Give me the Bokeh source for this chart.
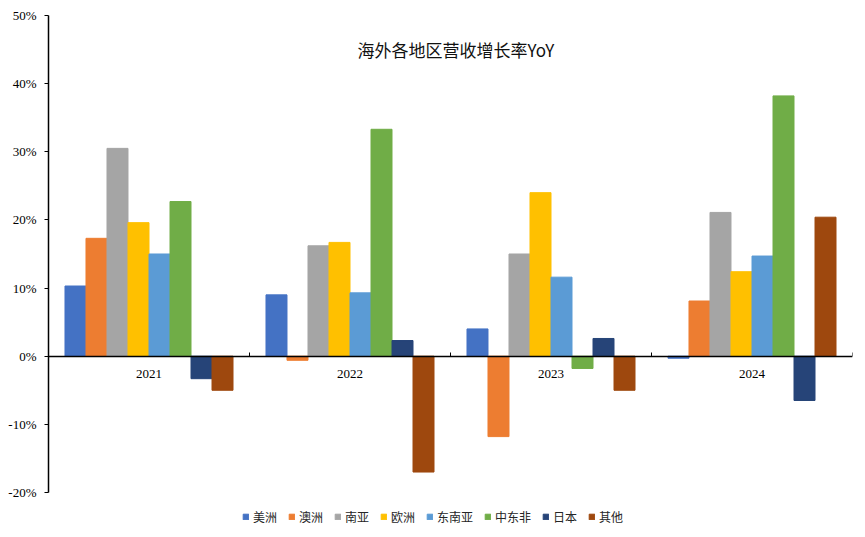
from bokeh.plotting import figure
from bokeh.models import (ColumnDataSource, Range1d, LinearAxis,
                          FixedTicker, PrintfTickFormatter, Legend, LegendItem, Label)
from bokeh.embed import file_html
from bokeh.resources import INLINE

years = ["2021", "2022", "2023", "2024"]
regions = ["美洲", "澳洲", "南亚", "欧洲", "东南亚", "中东非", "日本", "其他"]
americas = [10.3, 9.0, 4.0, -0.3]
australia = [17.3, -0.6, -11.8, 8.1]
south_asia = [30.5, 16.2, 15.0, 21.1]
europe = [19.6, 16.7, 24.0, 12.4]
southeast_asia = [15.0, 9.3, 11.6, 14.7]
mideast_africa = [22.7, 33.3, -1.8, 38.2]
japan = [-3.3, 2.3, 2.6, -6.5]
others = [-5.0, -17.0, -5.0, 20.4]
series = [americas, australia, south_asia, europe, southeast_asia, mideast_africa, japan, others]
colors = ["#4472C4", "#ED7D31", "#A5A5A5", "#FFC000", "#5B9BD5", "#70AD47", "#264478", "#9E480E"]
title_text = "海外各地区营收增长率YoY"
y_ticks = [-20, -10, 0, 10, 20, 30, 40, 50]

centers = [i + 0.5 for i in range(len(years))]
n = len(series)
w = 1.0 / (n + 1.57)

# frame spans 15..530 px; axis drawn only over -20..50
p = figure(width=860, height=535, output_backend="svg", toolbar_location=None,
           x_range=Range1d(0, len(years)), y_range=Range1d(-25.58, 50))
p.outline_line_color = None
p.xgrid.visible = False
p.ygrid.visible = False
p.min_border_left = 48
p.min_border_right = 8
p.min_border_top = 15
p.min_border_bottom = 5
p.xaxis.visible = False

renderers = []
for i in range(n):
    off = (i - (n - 1) / 2) * w
    src = ColumnDataSource({"x": [c + off for c in centers], "top": series[i]})
    r = p.vbar(x="x", top="top", bottom=0, width=w, source=src,
               fill_color=colors[i], line_color=colors[i])
    renderers.append(r)

# y axis
yax = p.yaxis[0]
yax.bounds = (-20, 50)
yax.ticker = FixedTicker(ticks=y_ticks)
yax.formatter = PrintfTickFormatter(format="%d%%")
yax.major_label_text_font = "Liberation Serif"
yax.major_label_text_font_size = "13px"
yax.major_label_text_color = "#000000"
yax.axis_line_color = "#000000"
yax.axis_line_width = 1.5
yax.major_tick_line_color = "#000000"
yax.major_tick_in = 0
yax.major_tick_out = 4
yax.minor_tick_line_color = None
yax.major_label_standoff = 8

# category axis at zero
cax = LinearAxis(fixed_location=0, ticker=FixedTicker(ticks=centers),
                 major_label_overrides={c: y for c, y in zip(centers, years)})
cax.major_tick_line_color = None
cax.minor_tick_line_color = None
cax.axis_line_color = "#000000"
cax.axis_line_width = 1.5
cax.major_label_text_font = "Liberation Serif"
cax.major_label_text_font_size = "13px"
cax.major_label_text_color = "#000000"
cax.major_label_standoff = 8
p.add_layout(cax, "below")

# separator ticks between categories
sax = LinearAxis(fixed_location=0, ticker=FixedTicker(ticks=list(range(len(years) + 1))))
sax.axis_line_color = None
sax.major_tick_in = 4
sax.major_tick_out = 0
sax.major_tick_line_color = "#000000"
sax.minor_tick_line_color = None
sax.major_label_text_alpha = 0
sax.major_label_text_font_size = "1px"
p.add_layout(sax, "below")

title = Label(x=2.027, y=45.0, text=title_text,
              text_align="center", text_baseline="middle",
              text_font="Noto Sans CJK SC", text_font_size="17px", text_color="#111111")
p.add_layout(title)

items = [LegendItem(label=regions[i], renderers=[renderers[i]]) for i in range(n)]
legend = Legend(items=items, orientation="horizontal", location=(194, 5),
                glyph_width=7, glyph_height=7, label_standoff=4, spacing=11,
                label_text_font="Noto Sans CJK SC", label_text_font_size="12px",
                label_text_color="#262626", border_line_color=None,
                background_fill_alpha=0, padding=0, margin=0)
p.add_layout(legend, "center")

open("out.html", "w").write(file_html(p, INLINE))
